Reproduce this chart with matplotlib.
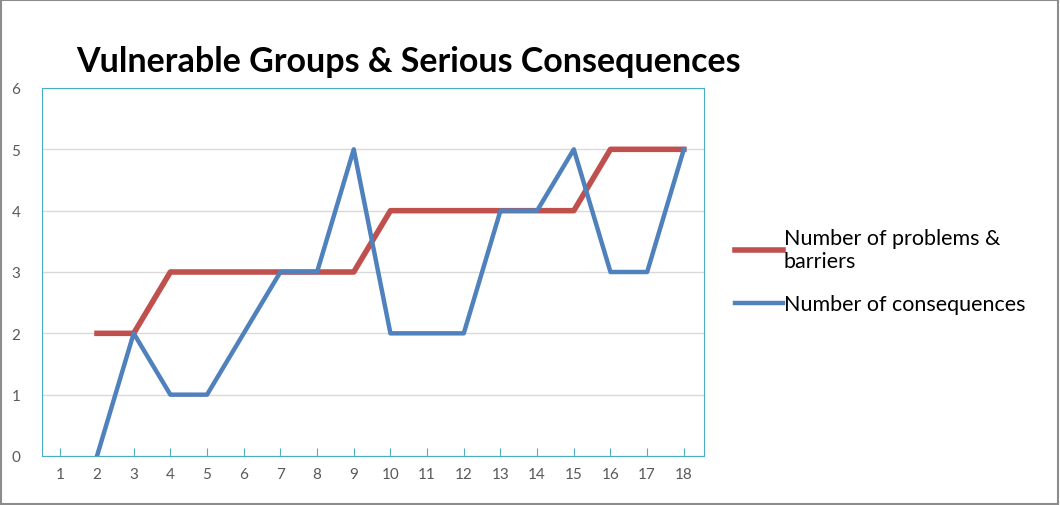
import matplotlib
matplotlib.use("Agg")
import matplotlib.pyplot as plt
from matplotlib.patches import Rectangle

plt.rcParams['font.family'] = ['Lato', 'DejaVu Sans']

categories = list(range(1, 19))
problems_x = list(range(2, 19))
problems = [2, 2, 3, 3, 3, 3, 3, 3, 4, 4, 4, 4, 4, 4, 5, 5, 5]
consequences_x = list(range(2, 19))
consequences = [0, 2, 1, 1, 2, 3, 3, 5, 2, 2, 2, 4, 4, 5, 3, 3, 5]

fig = plt.figure(figsize=(10.6, 5.06), dpi=100)
ax = fig.add_axes([42/1060, 1-457/506, (704-42)/1060, (457-89)/506])
ax.plot(problems_x, problems, color='#c0504d', lw=4, label='Number of problems &\nbarriers', solid_joinstyle='round')
ax.plot(consequences_x, consequences, color='#4f81bd', lw=3.2, label='Number of consequences', solid_joinstyle='round')
ax.set_xlim(0.5, 18.55)
ax.set_ylim(0, 6)
ax.set_xticks(categories)
ax.set_yticks(range(0, 7))
ax.grid(axis='y', color='#d9d9d9', lw=1)
ax.set_axisbelow(True)
for s in ['top', 'right', 'left', 'bottom']:
    ax.spines[s].set_color('#4bacc6')
ax.tick_params(axis='both', length=0, labelsize=11, colors='#595959', pad=8)
ax.tick_params(axis='y', pad=22)
ax.tick_params(axis='x', length=6, direction='in', color='#4bacc6')
for lab in ax.get_yticklabels():
    lab.set_horizontalalignment('left')
fig.text(76/1060, 1-62/506, 'Vulnerable Groups & Serious Consequences', fontsize=24.5, fontweight='bold', va='center')
leg = fig.legend(loc='center left', bbox_to_anchor=(716/1060, 1-272/506), frameon=False, fontsize=15.5,
                 handlelength=2.2, handletextpad=0.05, labelspacing=1.1)
fig.add_artist(Rectangle((0.0005, 0.001), 0.998, 0.997, transform=fig.transFigure, fill=False, ec='#8c8c8c', lw=1.5))
fig.savefig('out.png', dpi=100)
